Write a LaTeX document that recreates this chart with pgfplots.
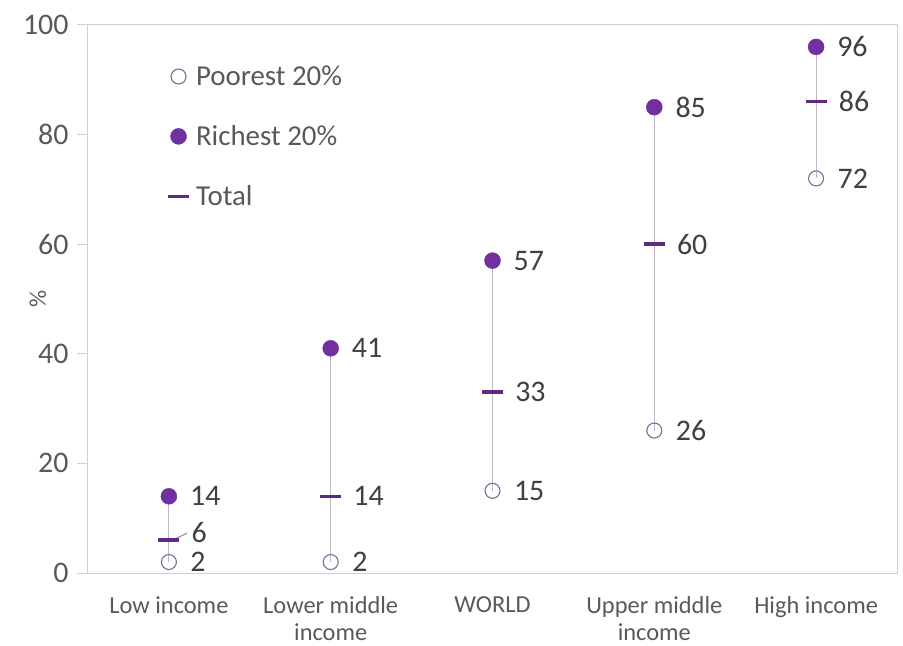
\documentclass[border=0pt]{standalone}
\usepackage{fontspec}
\setmainfont{Carlito}
\usepackage{pgfplots}
\pgfplotsset{compat=1.18}
\definecolor{purp}{HTML}{7030A0}
\definecolor{dpurp}{HTML}{5E2A84}
\definecolor{opurp}{HTML}{7B6C9A}
\definecolor{vline}{HTML}{BDB6C6}
\definecolor{tgray}{HTML}{595959}
\definecolor{lgray}{HTML}{404040}
\definecolor{frm}{HTML}{D0D0D0}
\begin{document}
\begin{tikzpicture}
\useasboundingbox (-88bp,-73bp) rectangle (815bp,573bp);
\begin{axis}[name=ax, anchor=south west, at={(0,0)},
  scale only axis, width=809bp, height=548bp,
  xmin=-0.5, xmax=4.5, ymin=0, ymax=100,
  xtick={0,1,2,3,4},
  xticklabels={Low income, {Lower middle\\income}, WORLD, {Upper middle\\income}, High income},
  x tick label style={align=center, font=\fontsize{24.5}{27}\selectfont, text=tgray, inner sep=0.5bp, yshift=-12bp},
  ytick={0,20,40,60,80,100},
  y tick label style={font=\fontsize{30}{32}\selectfont, text=tgray, xshift=-5bp},
  /pgf/number format/assume math mode=true,
  axis line style={frm, line width=1bp},
  tick pos=left, tick align=outside, major tick length=11bp,
  ytick style={frm, line width=1bp},
  xtick style={draw=none},
  ylabel={\%}, ylabel style={font=\fontsize{24}{28}\selectfont, text=tgray},
  ylabel shift=-30bp,
  clip=false,
  legend cell align=left,
  legend style={draw=none, fill=none, font=\fontsize{29}{32}\selectfont, text=tgray,
    at={(rel axis cs:0.095,0.933)}, anchor=north west, row sep=34.5bp,
    /tikz/every odd column/.append style={column sep=5bp}},
  nodes near coords style={font=\fontsize{30}{32}\selectfont, text=lgray, anchor=west, inner sep=0pt, xshift=21bp},
]
\addplot[vline, line width=1bp, forget plot] coordinates {(0,2) (0,14)};
\addplot[vline, line width=1bp, forget plot] coordinates {(1,2) (1,41)};
\addplot[vline, line width=1bp, forget plot] coordinates {(2,15) (2,57)};
\addplot[vline, line width=1bp, forget plot] coordinates {(3,26) (3,85)};
\addplot[vline, line width=1bp, forget plot] coordinates {(4,72) (4,96)};
\addplot[only marks, mark=o, mark size=7.5bp, mark options={draw=opurp, fill=white, line width=1.1bp},
  nodes near coords, point meta=y] coordinates {(0,2) (1,2) (2,15) (3,26) (4,72)};
\addlegendentry{Poorest 20\%}
\addplot[only marks, mark=*, mark size=8bp, mark options={draw=purp, fill=purp},
  nodes near coords, point meta=y] coordinates {(0,14) (1,41) (2,57) (3,85) (4,96)};
\addlegendentry{Richest 20\%}
\addplot[only marks, mark=-, mark size=10.5bp, mark options={draw=dpurp, line width=3.5bp},
  nodes near coords, point meta=y,
  coordinate style/.condition={x==0}{yshift=8bp}] coordinates {(0,6) (1,14) (2,33) (3,60) (4,86)};
\addlegendentry{Total}
\draw[gray, line width=0.8bp] ([xshift=6bp,yshift=1bp]axis cs:0,6) -- ([xshift=18bp,yshift=7bp]axis cs:0,6);
\end{axis}
\end{tikzpicture}
\end{document}
